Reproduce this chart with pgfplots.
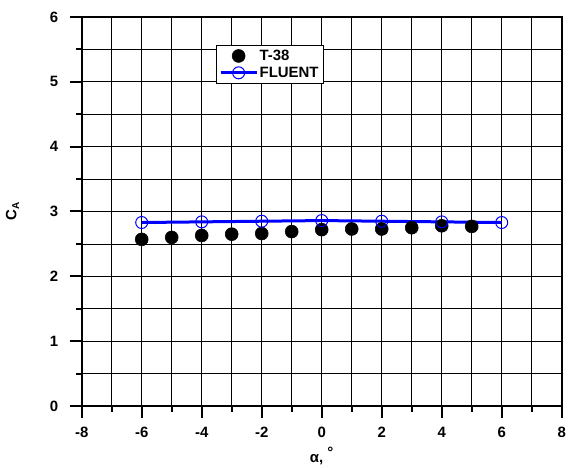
\documentclass[border=0pt]{standalone}
\usepackage{fontspec}
\setmainfont{Liberation Sans}
\usepackage{pgfplots}
\pgfplotsset{compat=1.18}

\newcommand{\lblfont}{\bfseries\fontsize{15}{17}\selectfont}

\begin{document}
\begin{tikzpicture}[x=1bp,y=1bp]
\useasboundingbox (0,0) rectangle (571,468);
\begin{axis}[
  at={(81.7bp,62bp)}, anchor=south west,
  scale only axis,
  width=480bp, height=389bp,
  xmin=-8, xmax=8, ymin=0, ymax=6,
  xtick={-8,-6,...,8}, minor xtick={-7,-5,...,7},
  ytick={0,1,...,6}, minor ytick={0.5,1.5,...,5.5},
  grid=both,
  major grid style={black, line width=0.8bp},
  minor grid style={black, line width=0.8bp},
  axis line style={black, line width=2bp},
  tick style={black, line width=2bp},
  tick align=outside,
  major tick length=12bp,
  minor tick length=6bp,
  xtick pos=bottom, ytick pos=left,
  /pgf/number format/assume math mode=true,
  tick label style={font=\lblfont},
  xticklabel style={yshift=-6bp},
  yticklabel style={xshift=-8bp},
  xlabel={\lblfont α, \raisebox{0.55ex}{°}},
  ylabel={\lblfont C\raisebox{-0.35ex}{\fontsize{10}{12}\selectfont A}},
  xlabel style={at={(axis description cs:0.5,0)}, anchor=north, yshift=-38bp},
  ylabel style={at={(axis description cs:0,0.5)}, anchor=south, yshift=59bp},
  legend style={
    at={(0.279,0.928)}, anchor=north west,
    draw=black, line width=1bp, fill=white,
    font=\lblfont, inner xsep=3bp, inner ysep=3bp,
    row sep=2bp,
    nodes={inner sep=1.5bp},
  },
  legend cell align=left,
  legend image code/.code={%
    \draw[line width=3bp, mark repeat=2, mark phase=2]
      plot coordinates {(0bp,0bp) (18bp,0bp) (36bp,0bp)};
  },
  clip=false,
]
% wind tunnel measurements
\addplot[only marks, mark=*, mark size=6.5bp, mark options={fill=black, draw=black, line width=0.5bp}]
  coordinates {
    (-6,2.57) (-5,2.60) (-4,2.63) (-3,2.65) (-2,2.66) (-1,2.69)
    (0,2.72) (1,2.73) (2,2.73) (3,2.75) (4,2.78) (5,2.77)
  };
\addlegendentry{T-38}
% CFD results
\addplot[blue, line width=3bp, mark=o, mark size=6bp,
         mark options={line width=1bp, fill=none, draw=blue}]
  coordinates {
    (-6,2.83) (-4,2.84) (-2,2.85) (0,2.86) (2,2.85) (4,2.84) (6,2.83)
  };
\addlegendentry{FLUENT}
\end{axis}
\end{tikzpicture}
\end{document}
